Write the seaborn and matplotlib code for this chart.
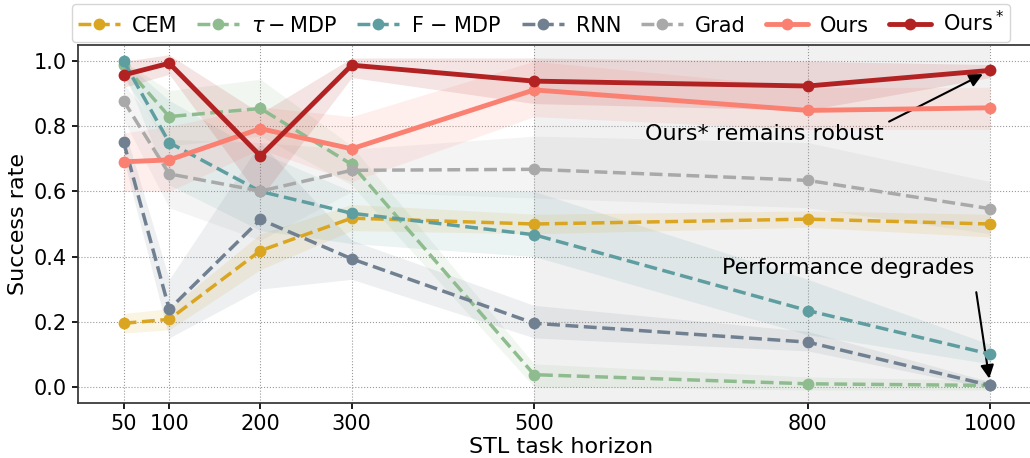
import numpy as np
import pandas as pd
import matplotlib
matplotlib.use("Agg")
import matplotlib.pyplot as plt
import seaborn as sns

horizon = [50, 100, 200, 300, 500, 800, 1000]

cem = [0.195, 0.207, 0.418, 0.518, 0.500, 0.515, 0.500]
cem_lo = [0.165, 0.175, 0.360, 0.480, 0.470, 0.490, 0.460]
cem_hi = [0.225, 0.240, 0.470, 0.560, 0.530, 0.540, 0.530]

tau = [0.990, 0.830, 0.855, 0.683, 0.037, 0.009, 0.004]
tau_lo = [0.950, 0.740, 0.770, 0.620, 0.000, -0.010, -0.010]
tau_hi = [1.000, 0.910, 0.945, 0.740, 0.070, 0.030, 0.020]

fmdp = [1.000, 0.750, 0.600, 0.533, 0.467, 0.234, 0.100]
fmdp_lo = [0.970, 0.620, 0.480, 0.440, 0.400, 0.160, 0.070]
fmdp_hi = [1.000, 0.880, 0.720, 0.600, 0.600, 0.330, 0.130]

rnn = [0.752, 0.238, 0.514, 0.393, 0.195, 0.137, 0.004]
rnn_lo = [0.700, 0.150, 0.300, 0.330, 0.150, 0.110, -0.005]
rnn_hi = [0.800, 0.330, 0.750, 0.450, 0.250, 0.170, 0.015]

grad = [0.878, 0.654, 0.601, 0.665, 0.668, 0.634, 0.547]
grad_lo = [0.820, 0.550, 0.450, 0.600, 0.580, 0.550, 0.470]
grad_hi = [0.930, 0.760, 0.750, 0.730, 0.770, 0.750, 0.630]

ours = [0.691, 0.697, 0.793, 0.731, 0.912, 0.849, 0.857]
ours_lo = [0.600, 0.600, 0.730, 0.630, 0.830, 0.790, 0.790]
ours_hi = [0.780, 0.800, 0.860, 0.830, 1.000, 0.920, 0.920]

ours_star = [0.958, 0.994, 0.709, 0.988, 0.939, 0.924, 0.972]
ours_star_lo = [0.920, 0.960, 0.580, 0.950, 0.870, 0.850, 0.950]
ours_star_hi = [1.000, 1.020, 0.840, 1.010, 1.010, 1.000, 0.990]

labels = ["CEM", r"$\tau-$MDP", r"F $-$ MDP", "RNN", "Grad", "Ours", r"Ours$^*$"]
colors = ["goldenrod", "darkseagreen", "cadetblue", "slategray", "darkgray", "salmon", "firebrick"]
means = [cem, tau, fmdp, rnn, grad, ours, ours_star]
lows = [cem_lo, tau_lo, fmdp_lo, rnn_lo, grad_lo, ours_lo, ours_star_lo]
highs = [cem_hi, tau_hi, fmdp_hi, rnn_hi, grad_hi, ours_hi, ours_star_hi]

sns.set_theme(style="ticks", rc={"text.color": "black", "axes.labelcolor": "black",
                                 "xtick.color": "black", "ytick.color": "black",
                                 "axes.edgecolor": "#333333"})
plt.rcParams["font.family"] = ["DejaVu Sans"]

fig = plt.figure(figsize=(10.3, 4.58), dpi=100)
# axes runs a little past the right edge, like the cropped original
ax = fig.add_axes([78 / 1030, 1 - 403 / 458, 967 / 1030, 358 / 458])
ax.spines["right"].set_visible(False)

ax.axvspan(500, 1000, color="lightgray", alpha=0.3, lw=0, zorder=0)

for i, (lab, c, m, lo, hi) in enumerate(zip(labels, colors, means, lows, highs)):
    df = pd.DataFrame({"horizon": horizon, "rate": m})
    solid = lab.startswith("Ours")
    sns.lineplot(data=df, x="horizon", y="rate", ax=ax, color=c, label=lab,
                 marker="o", markersize=8.5, markeredgewidth=0,
                 linestyle="-" if solid else "--",
                 linewidth=3.5 if solid else 2.5, zorder=3 + i)
    ax.fill_between(horizon, lo, hi, color=c, alpha=0.12, lw=0, zorder=1)

ax.set_xlim(0, 1060)
ax.set_ylim(-0.05, 1.05)
ax.set_xticks(horizon)
ax.set_yticks([0.0, 0.2, 0.4, 0.6, 0.8, 1.0])
ax.tick_params(labelsize=15, length=4, pad=4)
ax.grid(True, linestyle=":", color="gray", linewidth=0.8, alpha=0.8)
ax.set_xlabel("STL task horizon", fontsize=16, labelpad=2)
ax.set_ylabel("Success rate", fontsize=16, labelpad=4)

ax.annotate("Ours* remains robust", xy=(1000, 0.972), xytext=(752, 0.775),
            ha="center", va="center", fontsize=16,
            arrowprops=dict(arrowstyle="-|>", color="black", lw=1.5,
                            mutation_scale=20, relpos=(1.0, 1.0), shrinkB=6))
ax.annotate("Performance degrades", xy=(1000, 0.004), xytext=(844, 0.365),
            ha="center", va="center", fontsize=16,
            arrowprops=dict(arrowstyle="-|>", color="black", lw=1.5,
                            mutation_scale=20, relpos=(1.0, 0.0), shrinkA=8, shrinkB=5))

ax.get_legend().remove()
handles, leg_labels = ax.get_legend_handles_labels()
fig.legend(handles, leg_labels, loc="upper center", bbox_to_anchor=(541 / 1030, 1.0),
           ncol=7, fontsize=15, frameon=True, handlelength=2.0, columnspacing=0.95,
           handletextpad=0.6, borderpad=0.3, borderaxespad=0.2, fancybox=True)

fig.savefig("out.png", dpi=100)
